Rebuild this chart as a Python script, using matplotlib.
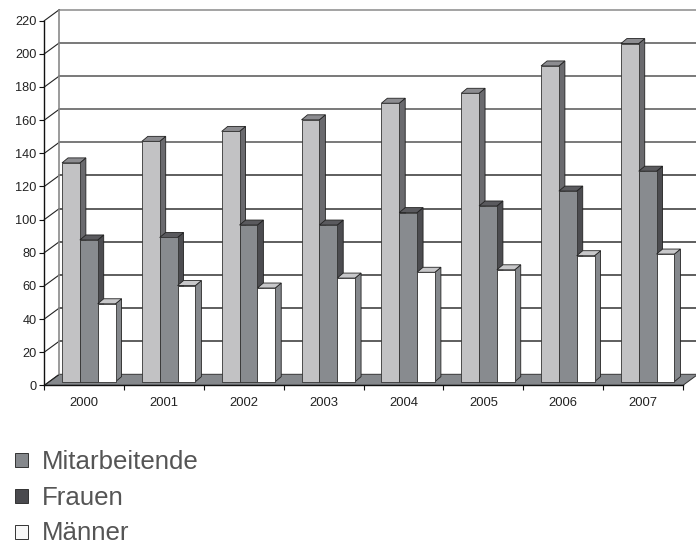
import matplotlib
matplotlib.use("Agg")
import matplotlib.pyplot as plt
from matplotlib.patches import Polygon, Rectangle

years = ["2000", "2001", "2002", "2003", "2004", "2005", "2006", "2007"]
mitarbeitende = [132, 145, 151, 158, 168, 174, 190.5, 204]
frauen = [85.5, 87, 94.5, 94.5, 102, 106, 115, 127]
maenner = [47, 58, 56.5, 62.5, 66, 67.5, 76, 77]
legend_names = ["Mitarbeitende", "Frauen", "Männer"]
yticks = list(range(0, 221, 20))

W, H = 696, 545
X0, X1, Y0, Y1 = 44.3, 683.0, 385.3, 20.7
px_x = 8 / (X1 - X0)     # data units per pixel
px_y = 220 / (Y0 - Y1)

plt.rcParams['font.family'] = ['Liberation Sans', 'DejaVu Sans']

fig = plt.figure(figsize=(W / 100, H / 100), dpi=100)
ax = fig.add_axes([X0 / W, 1 - Y0 / H, (X1 - X0) / W, (Y0 - Y1) / H])
ax.set_xlim(0, 8)
ax.set_ylim(0, 220)
ax.patch.set_visible(False)

# depth of the chart box
wall_dx = 15 * px_x
wall_dy = 11 * px_y

# floor
ax.add_patch(Polygon([(0, 0), (8, 0), (8 + wall_dx, wall_dy), (wall_dx, wall_dy)],
                     closed=True, fc="#85888c", ec="#333333", lw=0.7,
                     clip_on=False, zorder=1))

# back wall and grid
for v in yticks[1:]:
    col = "#8a8a8a" if v == 220 else ("#555555" if v >= 140 else "#333333")
    ax.plot([wall_dx, 8 + wall_dx], [v + wall_dy] * 2, color=col, lw=1.1,
            clip_on=False, zorder=1)
    ax.plot([0, wall_dx], [v, v + wall_dy], color="#222222", lw=0.8,
            clip_on=False, zorder=1)
ax.plot([0, wall_dx], [0, wall_dy], color="#222222", lw=0.8, clip_on=False, zorder=1)
ax.plot([wall_dx, wall_dx], [wall_dy, 220 + wall_dy], color="#8a8a8a", lw=1.2,
        clip_on=False, zorder=1)

# bars: front from ax.bar, side and top faces sheared from the same values
bar_w = 0.2235
bar_base = 2.2
bar_dx = 6 * px_x
bar_dy = 5 * px_y
series = [
    (mitarbeitende, "#c2c2c4", "#6a6a6e", "#8c8c90"),
    (frauen, "#888b8f", "#4c4c50", "#5a5a5e"),
    (maenner, "#ffffff", "#85888c", "#c8c8ca"),
]
for s, (vals, front, side, top) in enumerate(series):
    for i, v in enumerate(vals):
        left = i + 0.222 + s * bar_w
        right = left + bar_w
        low = bar_base
        high = bar_base + v
        z = 3 + s * 0.1
        ax.add_patch(Polygon([(right, low), (right + bar_dx, low + bar_dy),
                              (right + bar_dx, high + bar_dy), (right, high)],
                             closed=True, fc=side, ec="#222222", lw=0.6,
                             clip_on=False, zorder=z))
        ax.add_patch(Polygon([(left, high), (right, high),
                              (right + bar_dx, high + bar_dy), (left + bar_dx, high + bar_dy)],
                             closed=True, fc=top, ec="#222222", lw=0.6,
                             clip_on=False, zorder=z))
        ax.bar(left, v, width=bar_w, bottom=low, align="edge", color=front,
               edgecolor="#333333", linewidth=0.6, clip_on=False, zorder=z + 0.05)

# axes
for sp in ("top", "right"):
    ax.spines[sp].set_visible(False)
for sp in ("left", "bottom"):
    ax.spines[sp].set_color("#111111")
    ax.spines[sp].set_linewidth(1.0)
    ax.spines[sp].set_zorder(5)
ax.set_yticks(yticks)
ax.set_yticklabels([str(v) for v in yticks])
ax.set_xticks(range(9))
ax.set_xticklabels([])
ax.tick_params(axis="both", length=3.6, width=0.8, color="#111111",
               labelsize=9.2, labelcolor="#222222", pad=2)
for i, y in enumerate(years):
    ax.text(i + 0.5, -10.7, y, ha="center", va="center", fontsize=9.4,
            color="#222222", clip_on=False)

# legend
legend_cols = ["#85888c", "#4a4a4e", "#f8f8f8"]
legend_tops = [453, 489, 525]
legend_base = [469, 505, 540]
for name, col, top, base in zip(legend_names, legend_cols, legend_tops, legend_base):
    fig.add_artist(Rectangle((14.5 / W, 1 - (top + 14) / H), 13.5 / W, 14 / H,
                             transform=fig.transFigure, fc=col, ec="#333333", lw=0.7))
    fig.text(42 / W, 1 - base / H, name, fontsize=18.6, color="#555555",
             ha="left", va="baseline")

fig.savefig("out.png", dpi=100)
